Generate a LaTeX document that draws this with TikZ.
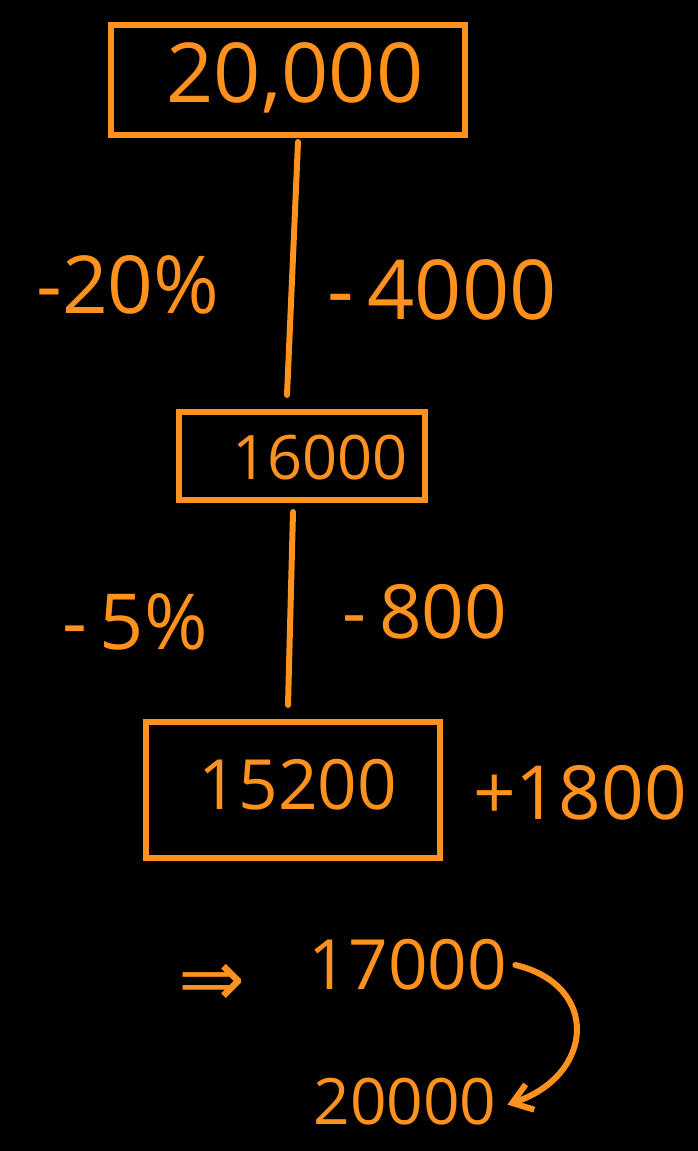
\documentclass[tikz,border=0pt]{standalone}
\usepackage{fontspec}
\setmainfont{Open Sans}
\newfontfamily\symfont{DejaVu Sans}
\usetikzlibrary{arrows.meta}
\definecolor{org}{RGB}{255,145,30}
\tikzset{
  hw/.style={text=org, inner sep=0pt, anchor=center},
  boxed/.style={draw=org, line width=4.5pt, inner sep=0pt, text=org},
  link/.style={draw=org, line width=4.5pt, line cap=round},
}
\newcommand{\fs}[1]{\fontsize{#1}{#1}\selectfont}
\begin{document}
\begin{tikzpicture}[x=0.75pt,y=-0.75pt]
\fill[black] (0,0) rectangle (698,1151);
\useasboundingbox (0,0) rectangle (698,1151);

\node[boxed, minimum width=266pt, minimum height=82pt] (b1) at (288,80) {};
\node[hw, font=\fs{62}] (t1) at (295,78) {20,000};
\node[boxed, minimum width=184pt, minimum height=66pt] (b2) at (302,456) {};
\node[hw, font=\fs{46}] (t2) at (320,458) {16000};
\node[boxed, minimum width=220pt, minimum height=102pt] (b3) at (293,790) {};
\node[hw, font=\fs{52}] (t3) at (298,785) {15200};

\coordinate (a1) at (298,142);
\coordinate (a2) at (287,395);
\coordinate (a3) at (293,512);
\coordinate (a4) at (288,705);
\draw[link] (a1) -- (a2);
\draw[link] (a3) -- (a4);

\node[hw, font=\fs{60}] (l1) at (128,285) {-20\%};
\node[hw, font=\fs{62}] (r1) at (442,290) {-\,4000};
\node[hw, font=\fs{58}] (l2) at (135,622) {-\,5\%};
\node[hw, font=\fs{56}] (r2) at (425,612) {-\,800};
\node[hw, font=\fs{56}] (r3) at (580,793) {+1800};

\node[hw, font=\fs{60}\symfont] (imp) at (212,985) {⇒};
\node[hw, font=\fs{52}] (n17) at (408,965) {17000};
\node[hw, font=\fs{48}] (n20) at (405,1102) {20000};

\draw[link, -{Straight Barb[length=14pt,width=20pt]}] ([xshift=6pt]n17.east) .. controls (600,985) and (595,1075) .. ([xshift=8pt,yshift=-2pt]n20.east);
\end{tikzpicture}
\end{document}
